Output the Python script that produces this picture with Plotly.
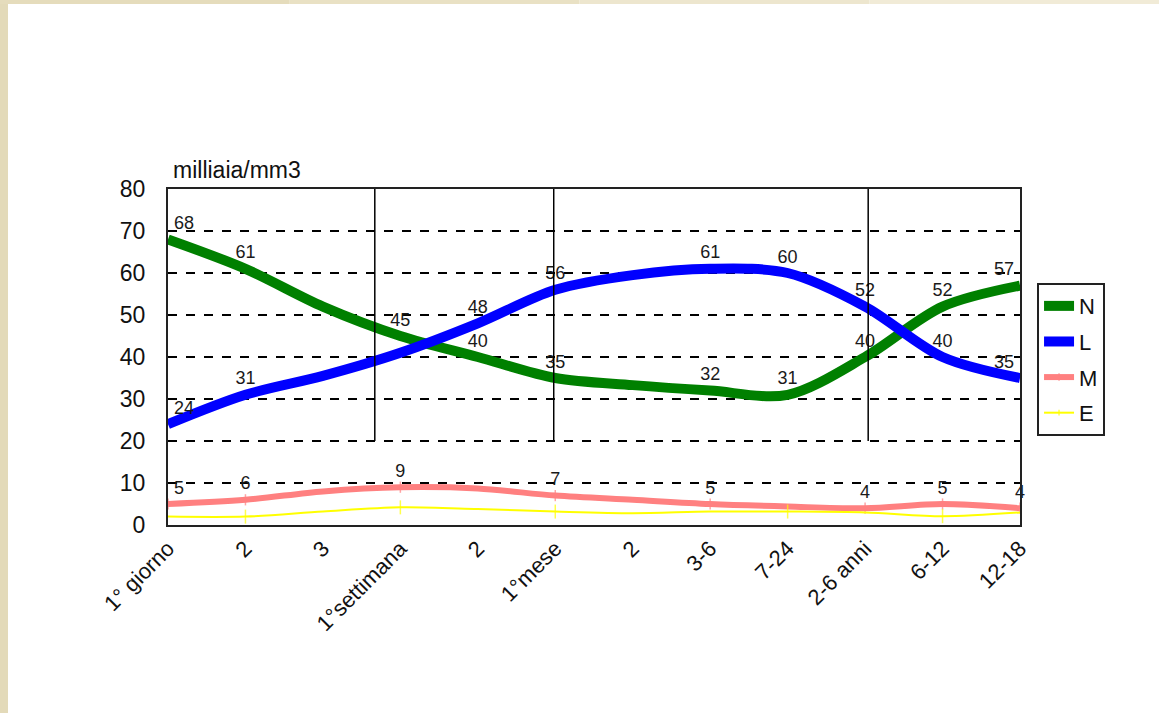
import plotly.graph_objects as go

# ---- data ----
tick_labels = ["1° giorno", "2", "3", "1°settimana", "2", "1°mese", "2",
               "3-6", "7-24", "2-6 anni", "6-12", "12-18"]
x_pos = list(range(len(tick_labels)))

N = [68, 61, 52, 45, 40, 35, 33.3, 32, 31, 40, 52, 57]
L = [24, 31, 35.5, 41, 48, 56, 59.5, 61, 60, 52, 40, 35]
M = [5, 6, 8, 9, 8.7, 7, 6, 5, 4.4, 4, 5, 4]
E = [2, 2, 3.2, 4.2, 3.8, 3.2, 2.8, 3.2, 3.2, 3, 2.1, 3]

N_label_idx = [0, 1, 3, 4, 5, 7, 8, 9, 10, 11]
L_label_idx = [0, 1, 4, 5, 7, 8, 9, 10, 11]
M_label_idx = [0, 1, 3, 5, 7, 9, 10, 11]
E_marker_idx = [1, 3, 5, 8, 10]

separators = [2.67, 4.98, 9.04]   # vertical divider lines (x in category units)

FONT = "Arial, Liberation Sans, sans-serif"


def labels(vals, idx):
    return [f"{vals[i]:g}" if i in idx else "" for i in range(len(vals))]


def positions(n, last_center=False):
    p = ["top center"] * n
    p[0] = "top right"
    if not last_center:
        p[-1] = "top left"
    return p


def sizes(n, idx, s):
    return [s if i in idx else 0 for i in range(n)]


TXT = dict(size=18, color="#1a1a1a", family=FONT)

fig = go.Figure()
fig.add_trace(go.Scatter(
    x=x_pos, y=N, name="N", legendgroup="N", mode="lines+markers+text",
    line=dict(color="#008000", width=10, shape="spline", smoothing=0.9),
    marker=dict(size=8, color="rgba(0,0,0,0)"),
    text=labels(N, N_label_idx), textposition=positions(len(N)),
    textfont=TXT, cliponaxis=False))
fig.add_trace(go.Scatter(
    x=x_pos, y=L, name="L", legendgroup="L", mode="lines+markers+text",
    line=dict(color="#0000FF", width=10, shape="spline", smoothing=0.9),
    marker=dict(size=8, color="rgba(0,0,0,0)"),
    text=labels(L, L_label_idx), textposition=positions(len(L)),
    textfont=TXT, cliponaxis=False))
fig.add_trace(go.Scatter(
    x=x_pos, y=M, name="M", legendgroup="M", mode="lines+markers+text",
    line=dict(color="#FF8080", width=6, shape="spline", smoothing=0.9),
    marker=dict(symbol="line-ns", size=sizes(len(M), M_label_idx, 8),
                line=dict(color="#FF8080", width=1.5)),
    text=labels(M, M_label_idx), textposition=positions(len(M), last_center=True),
    textfont=TXT, cliponaxis=False))
fig.add_trace(go.Scatter(
    x=x_pos, y=E, name="E", legendgroup="E", mode="lines+markers",
    line=dict(color="#FFFF00", width=2, shape="spline", smoothing=0.9),
    marker=dict(symbol="line-ns", size=sizes(len(E), E_marker_idx, 10),
                line=dict(color="#FFFF00", width=1.5))))

shapes = []
for sx in separators:
    shapes.append(dict(type="line", xref="x", yref="y", x0=sx, x1=sx, y0=20, y1=80,
                       line=dict(color="black", width=1.5)))

# page border strips (beige) in paper coordinates
W, H = 1159, 713
ml, mr, mt, mb = 168, 139, 189, 188
pw, ph = W - ml - mr, H - mt - mb
xl = -ml / pw
xr = 1 + mr / pw
yb = -mb / ph
yt = 1 + mt / ph
shapes.append(dict(type="rect", xref="paper", yref="paper", x0=xl, x1=xl + 8 / pw,
                   y0=yb, y1=yt, fillcolor="#E3DAB9", line=dict(width=0), layer="below"))
top_cols = ["#E5DCBC", "#E9E1C4", "#EDE6CE", "#F1EBD7"]
seg = (xr - xl) / len(top_cols)
for i, c in enumerate(top_cols):
    shapes.append(dict(type="rect", xref="paper", yref="paper",
                       x0=xl + i * seg, x1=xl + (i + 1) * seg,
                       y0=yt - 4 / ph, y1=yt, fillcolor=c, line=dict(width=0), layer="below"))

fig.update_layout(
    width=W, height=H,
    margin=dict(l=ml, r=mr, t=mt, b=mb, pad=0),
    paper_bgcolor="white", plot_bgcolor="white",
    font=dict(family=FONT, color="black"),
    showlegend=True,
    legend=dict(x=1.02, y=0.72, xanchor="left", yanchor="top",
                bordercolor="#222", borderwidth=2, bgcolor="white",
                font=dict(size=22, family=FONT, color="#111"),
                tracegroupgap=4, itemwidth=30),
    shapes=shapes,
    annotations=[dict(text="milliaia/mm3", xref="paper", yref="paper",
                      x=0.003, y=1 + 4 / ph, xanchor="left", yanchor="bottom",
                      showarrow=False, font=dict(size=23, family=FONT, color="#111"))],
)
fig.update_xaxes(range=[0, 11], tickmode="array", tickvals=x_pos, ticktext=tick_labels,
                 tickangle=-45, tickfont=dict(size=22, family=FONT, color="#111"),
                 showgrid=False, zeroline=False, showline=True, linecolor="#222",
                 linewidth=2, mirror=True, ticks="")
fig.update_yaxes(range=[0, 80], dtick=10, tickfont=dict(size=23, family=FONT, color="#111"),
                 showgrid=True, gridcolor="black", gridwidth=1.5, griddash="dash",
                 zeroline=False, showline=True, linecolor="#222", linewidth=2,
                 mirror=True, ticks="", ticklabelstandoff=16)

fig.write_html("out.html")
